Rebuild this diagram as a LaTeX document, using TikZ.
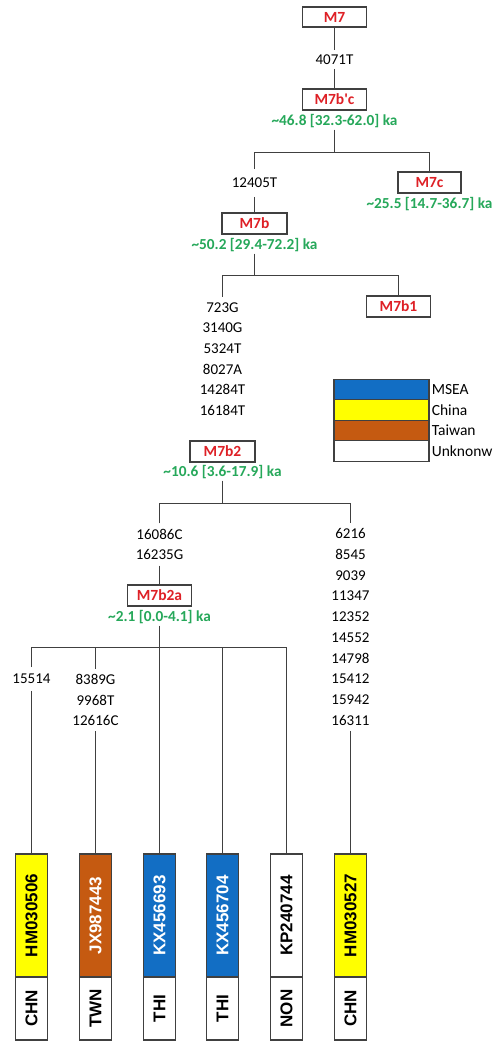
\documentclass[tikz,border=0pt]{standalone}
\usepackage{fontspec}
\setmainfont{Carlito}
\newfontfamily\lab{Liberation Sans}
\newfontfamily\plainq{Carlito}[Ligatures=Common]
\definecolor{hred}{RGB}{222,32,38}
\definecolor{hgreen}{RGB}{38,168,90}
\definecolor{lgray}{RGB}{64,64,64}
\definecolor{mseab}{RGB}{18,110,196}
\definecolor{chy}{RGB}{255,255,0}
\definecolor{twor}{RGB}{197,90,17}
\begin{document}
\begin{tikzpicture}[x=1pt,y=-1pt,
 hap/.style={draw=lgray, line width=1.2pt, minimum width=64pt, minimum height=21pt, inner sep=0pt, text=hred, font=\fontsize{15.5}{18}\selectfont\bfseries},
 age/.style={text=hgreen, font=\fontsize{15.3}{18}\selectfont\bfseries, inner sep=0pt, outer ysep=2pt},
 mut/.style={font=\fontsize{15}{20.7}\selectfont, align=center, inner sep=0pt, outer ysep=5.5pt},
 conn/.style={draw=lgray, line width=1.1pt},
 sbox/.style={draw=lgray, line width=1.2pt, rotate=90, minimum width=123pt, minimum height=31.5pt, inner sep=0pt, font=\lab\bfseries\fontsize{17}{18}\selectfont},
 cbox/.style={draw=lgray, line width=1.2pt, rotate=90, minimum width=63pt, minimum height=31.5pt, inner sep=0pt, fill=white, font=\lab\bfseries\fontsize{17}{18}\selectfont},
 legbox/.style={draw=lgray, line width=1.2pt, minimum width=95pt, minimum height=20.5pt, inner sep=0pt},
 legtxt/.style={anchor=west, inner sep=2pt, font=\fontsize{15.5}{18}\selectfont}
]
\useasboundingbox (0,0) rectangle (493,1041);
\fill[white] (0,0) rectangle (493,1041);

% haplogroup boxes and labels
\node[hap, minimum height=20pt] (M7) at (334.5,17) {M7};
\node[mut, outer ysep=4.5pt] (m4071) at (334.5,59.5) {4071T};
\node[hap] (M7bc) at (334.5,99.5) {M7b{\plainq\bfseries '}c};
\node[age] (age1) at (334.5,121) {\textasciitilde 46.8 [32.3-62.0] ka};
\coordinate (j1) at (334.5,152.5);
\node[mut, outer ysep=9pt] (m12405) at (254.5,183) {12405T};
\node[hap, minimum width=63pt] (M7c) at (429.5,182.5) {M7c};
\node[age] (age2) at (429.5,204) {\textasciitilde 25.5 [14.7-36.7] ka};
\node[hap, minimum width=65pt] (M7b) at (254.5,223.5) {M7b};
\node[age] (age3) at (254.5,245) {\textasciitilde 50.2 [29.4-72.2] ka};
\coordinate (j2) at (254.5,275.5);
\node[mut] (st1) at (222.5,359) {723G\\3140G\\5324T\\8027A\\14284T\\16184T};
\node[hap] (M7b1) at (398.5,306.5) {M7b1};
\node[hap, minimum width=65pt] (M7b2) at (222.5,451.5) {M7b2};
\node[age] (age4) at (222.5,472) {\textasciitilde 10.6 [3.6-17.9] ka};
\coordinate (j3) at (222.5,503.5);
\node[mut] (st2) at (159.5,544.5) {16086C\\16235G};
\node[hap] (M7b2a) at (159.5,595.5) {M7b2a};
\node[age] (age5) at (159.5,617) {\textasciitilde 2.1 [0.0-4.1] ka};
\coordinate (j4) at (159.5,647.5);
\node[mut, outer ysep=7pt] (m15514) at (31.5,679) {15514};
\node[mut] (st3) at (95.5,700) {8389G\\9968T\\12616C};
\node[mut] (st4) at (350.5,627) {6216\\8545\\9039\\11347\\12352\\14552\\14798\\15412\\15942\\16311};

% samples
\node[sbox, fill=chy, text=black] (s1) at (31.5,915.5) {HM030506};
\node[cbox] (c1) at (31.5,1008.5) {CHN};
\node[sbox, fill=twor, text=white] (s2) at (95.5,915.5) {JX987443};
\node[cbox] (c2) at (95.5,1008.5) {TWN};
\node[sbox, fill=mseab, text=white] (s3) at (159.5,915.5) {KX456693};
\node[cbox] (c3) at (159.5,1008.5) {THI};
\node[sbox, fill=mseab, text=white] (s4) at (222.5,915.5) {KX456704};
\node[cbox] (c4) at (222.5,1008.5) {THI};
\node[sbox, fill=white, text=black] (s5) at (286.5,915.5) {KP240744};
\node[cbox] (c5) at (286.5,1008.5) {NON};
\node[sbox, fill=chy, text=black] (s6) at (350.5,915.5) {HM030527};
\node[cbox] (c6) at (350.5,1008.5) {CHN};

% legend
\node[legbox, fill=mseab] (lg1) at (381.5,389.5) {};
\node[legbox, fill=chy] (lg2) at (381.5,410) {};
\node[legbox, fill=twor] (lg3) at (381.5,430.5) {};
\node[legbox, fill=white] (lg4) at (381.5,451) {};
\node[legtxt] (lt1) at (lg1.east) {MSEA};
\node[legtxt] (lt2) at (lg2.east) {China};
\node[legtxt] (lt3) at (lg3.east) {Taiwan};
\node[legtxt] (lt4) at (lg4.east) {Unknonw};

% connectors
\draw[conn] (M7.south) -- (m4071.north);
\draw[conn] (m4071.south) -- (M7bc.north);
\draw[conn] (age1.south) -- (j1);
\draw[conn] (m12405.north) |- (j1) -| (M7c.north);
\draw[conn] (m12405.south) -- (M7b.north);
\draw[conn] (age3.south) -- (j2);
\draw[conn] (st1.north) |- (j2) -| (M7b1.north);
\draw[conn] (age4.south) -- (j3);
\draw[conn] (st2.north) |- (j3) -| (st4.north);
\draw[conn] (st2.south) -- (M7b2a.north);
\draw[conn] (age5.south) -- (j4);
\draw[conn] (m15514.north) |- (j4) -| (s5.east);
\draw[conn] (st3.north) |- (j4);
\draw[conn] (j4) -- (s3.east);
\draw[conn] (s4.east) |- (j4);
\draw[conn] (m15514.south) -- (s1.east);
\draw[conn] (st3.south) -- (s2.east);
\draw[conn] (st4.south) -- (s6.east);
\end{tikzpicture}
\end{document}
